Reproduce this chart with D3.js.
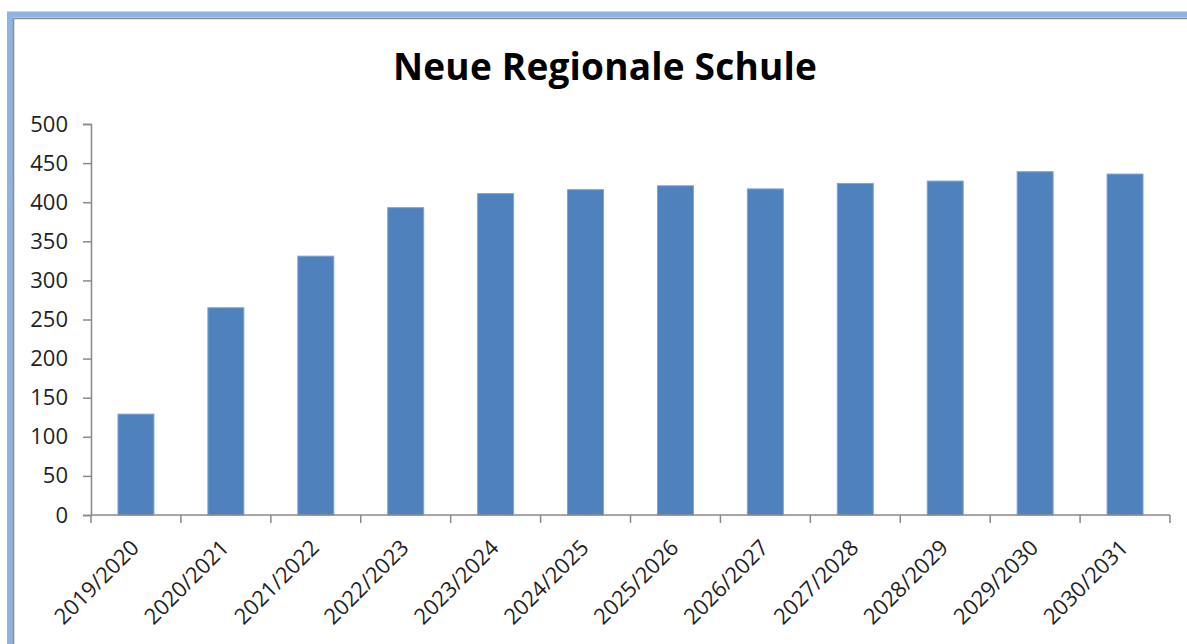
<!DOCTYPE html>
<html>
<head>
<meta charset="utf-8">
<script src="https://cdn.jsdelivr.net/npm/d3@7/dist/d3.min.js"></script>
<style>
  body { margin: 0; background: #fff; }
  svg { display: block; }
</style>
</head>
<body>
<div id="chart"></div>
<script>
// data
var years = ['2019/2020', '2020/2021', '2021/2022', '2022/2023', '2023/2024', '2024/2025',
             '2025/2026', '2026/2027', '2027/2028', '2028/2029', '2029/2030', '2030/2031'];
var pupils = [129, 265, 331, 393, 411, 416, 421, 417, 424, 427, 439, 436];
var yTicks = [0, 50, 100, 150, 200, 250, 300, 350, 400, 450, 500];

var width = 1187;
var height = 644;
var margin = { top: 124, left: 91, right: 17, bottom: 129 };

var svg = d3.select('#chart')
    .append('svg')
    .attr('width', width)
    .attr('height', height);

// chart frame (blue outer + grey inner line)
svg.append('rect')
    .attr('x', 10).attr('y', 14.5)
    .attr('width', 1200).attr('height', 700)
    .attr('fill', 'none')
    .attr('stroke', '#8eb4e3')
    .attr('stroke-width', 6);
svg.append('rect')
    .attr('x', 13.5).attr('y', 18.5)
    .attr('width', 1200).attr('height', 700)
    .attr('fill', 'none')
    .attr('stroke', '#8c8c8c')
    .attr('stroke-width', 1.5);

svg.append('text')
    .attr('x', 605)
    .attr('y', 80)
    .attr('text-anchor', 'middle')
    .style('font-family', 'Open Sans, sans-serif')
    .style('font-weight', 'bold')
    .style('font-size', '37px')
    .style('letter-spacing', '0.2px')
    .attr('fill', '#000')
    .text('Neue Regionale Schule');

var x = d3.scaleBand()
    .domain(years)
    .range([margin.left, width - margin.right])
    .paddingInner(0.6)
    .paddingOuter(0.3);

var y = d3.scaleLinear()
    .domain([0, 500])
    .range([height - margin.bottom, margin.top]);

var axisColor = '#898989';
var labelFont = 'Open Sans, sans-serif';

// y axis
var yAxis = svg.append('g')
    .attr('transform', 'translate(' + margin.left + ',0)')
    .call(d3.axisLeft(y).tickValues(yTicks).tickSize(8).tickPadding(15));
yAxis.select('.domain').attr('stroke', axisColor).attr('stroke-width', 1.5);
yAxis.selectAll('.tick line').attr('stroke', axisColor).attr('stroke-width', 1.5);
yAxis.selectAll('.tick text')
    .style('font-family', labelFont)
    .style('font-size', '22px')
    .attr('fill', '#1f1f1f');

// bars
svg.selectAll('.bar')
    .data(pupils)
    .enter().append('rect')
    .attr('class', 'bar')
    .attr('x', function (d, i) { return x(years[i]); })
    .attr('y', function (d) { return y(d); })
    .attr('width', x.bandwidth())
    .attr('height', function (d) { return y(0) - y(d); })
    .attr('fill', '#4f81bd')
    .attr('stroke', '#7fa3d3')
    .attr('stroke-width', 1);

// x axis with ticks between categories
var boundaries = d3.range(years.length + 1).map(function (i) {
    return margin.left + i * x.step();
});
var xg = svg.append('g');
xg.append('line')
    .attr('x1', margin.left).attr('x2', width - margin.right)
    .attr('y1', y(0)).attr('y2', y(0))
    .attr('stroke', axisColor).attr('stroke-width', 1.5);
xg.selectAll('.xt')
    .data(boundaries)
    .enter().append('line')
    .attr('x1', function (d) { return d; })
    .attr('x2', function (d) { return d; })
    .attr('y1', y(0)).attr('y2', y(0) + 8)
    .attr('stroke', axisColor).attr('stroke-width', 1.5);

xg.selectAll('.xl')
    .data(years)
    .enter().append('text')
    .attr('transform', function (d) {
        var cx = x(d) + x.bandwidth() / 2;
        return 'translate(' + (cx + 4.5) + ',' + (y(0) + 34) + ') rotate(-45)';
    })
    .attr('text-anchor', 'end')
    .style('font-family', labelFont)
    .style('font-size', '22px')
    .attr('fill', '#1f1f1f')
    .text(function (d) { return d; });
</script>
</body>
</html>
